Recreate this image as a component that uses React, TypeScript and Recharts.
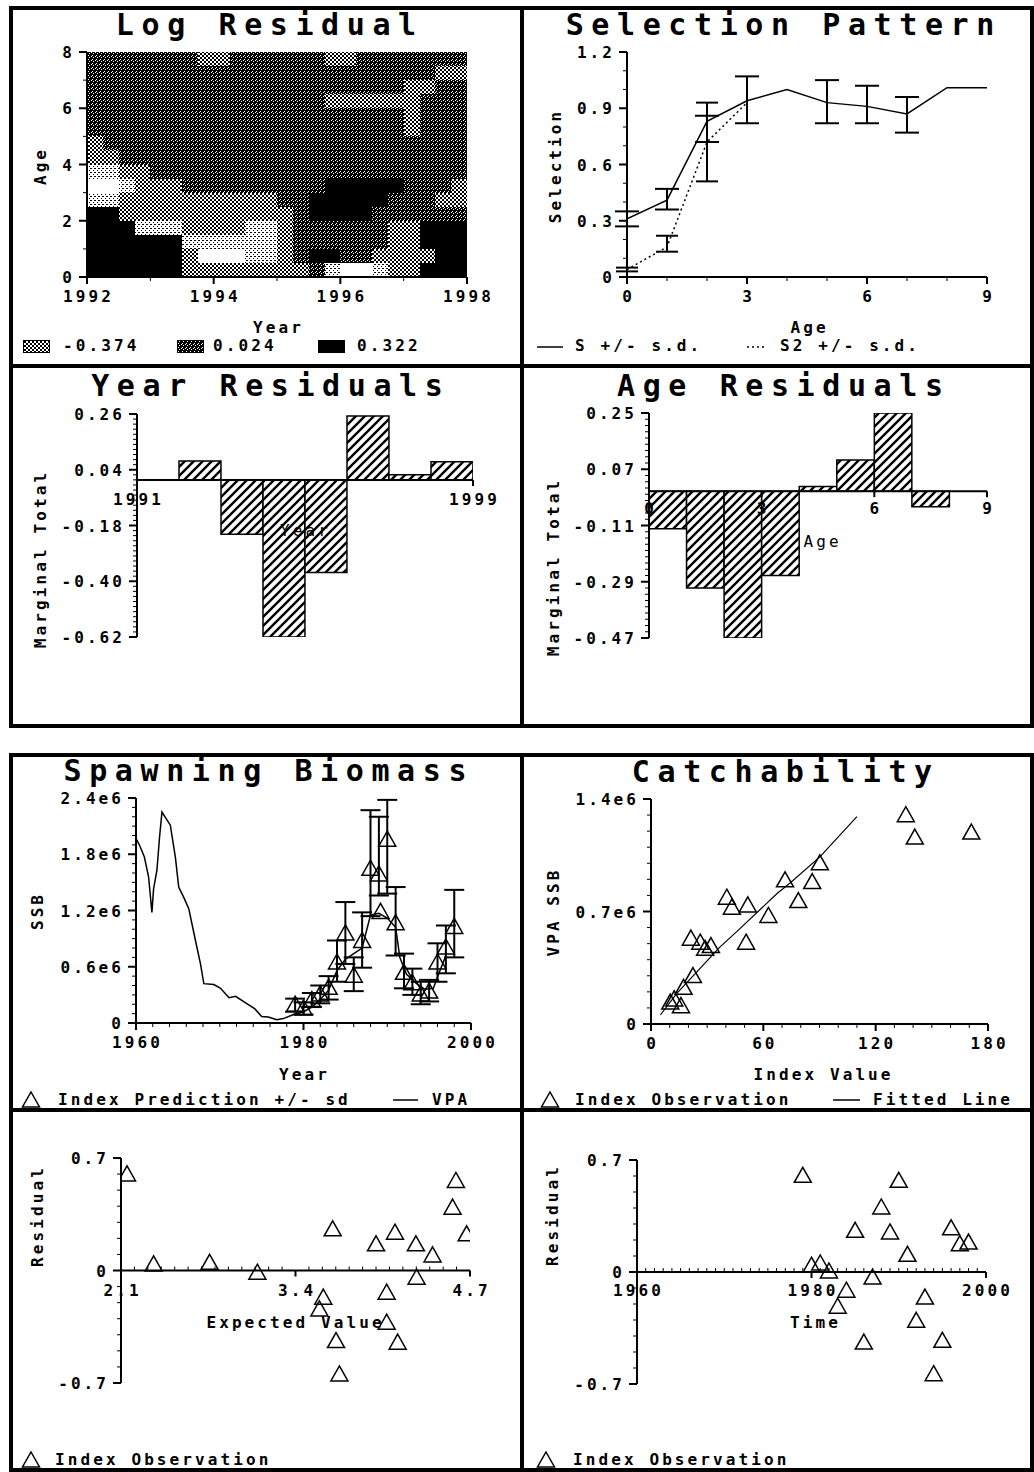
import React from "react";
import {
  ComposedChart,
  Line,
  Scatter,
  Bar,
  XAxis,
  YAxis,
  ReferenceArea,
  ReferenceLine,
  ReferenceDot,
  ErrorBar,
} from "recharts";

// ---------- Log Residual: contour level per quarter-year x half-age cell (0 lightest .. 4 darkest)
const lrYearEdges = [
  1992, 1992.25, 1992.5, 1992.75, 1993, 1993.25, 1993.5, 1993.75, 1994, 1994.25, 1994.5, 1994.75, 1995,
  1995.25, 1995.5, 1995.75, 1996, 1996.25, 1996.5, 1996.75, 1997, 1997.25, 1997.5, 1997.75, 1998,
];
const lrAgeEdges = [8, 7.5, 7, 6.5, 6, 5.5, 5, 4.5, 4, 3.5, 3, 2.5, 2, 1.5, 1, 0.5, 0];
const lrLevels = [
  [3, 3, 3, 3, 3, 3, 3, 2, 2, 3, 3, 3, 3, 3, 3, 2, 2, 3, 3, 3, 3, 3, 3, 3],
  [3, 3, 3, 3, 3, 3, 3, 3, 3, 3, 3, 3, 3, 3, 3, 3, 3, 3, 3, 3, 3, 3, 2, 2],
  [3, 3, 3, 3, 3, 3, 3, 3, 3, 3, 3, 3, 3, 3, 3, 3, 3, 3, 3, 3, 2, 2, 3, 3],
  [3, 3, 3, 3, 3, 3, 3, 3, 3, 3, 3, 3, 3, 3, 3, 2, 2, 2, 2, 2, 2, 3, 3, 3],
  [3, 3, 3, 3, 3, 3, 3, 3, 3, 3, 3, 3, 3, 3, 3, 3, 3, 3, 3, 3, 2, 3, 3, 3],
  [3, 3, 3, 3, 3, 3, 3, 3, 3, 3, 3, 3, 3, 3, 3, 3, 3, 3, 3, 3, 2, 3, 3, 3],
  [2, 3, 3, 3, 3, 3, 3, 3, 3, 3, 3, 3, 3, 3, 3, 3, 3, 3, 3, 3, 3, 3, 3, 3],
  [2, 2, 3, 3, 3, 3, 3, 3, 3, 3, 3, 3, 3, 3, 3, 3, 3, 3, 3, 3, 3, 3, 3, 3],
  [1, 1, 2, 2, 3, 3, 3, 3, 3, 3, 3, 3, 3, 3, 3, 3, 3, 3, 3, 3, 3, 3, 3, 3],
  [0, 0, 1, 2, 2, 2, 3, 3, 3, 3, 3, 3, 3, 3, 3, 4, 4, 4, 4, 4, 3, 3, 3, 2],
  [1, 1, 2, 2, 2, 2, 2, 2, 2, 2, 2, 2, 3, 3, 4, 4, 4, 4, 4, 3, 3, 3, 2, 2],
  [4, 4, 2, 2, 2, 2, 2, 2, 2, 2, 2, 2, 2, 3, 4, 4, 4, 4, 3, 3, 3, 3, 3, 3],
  [4, 4, 4, 1, 1, 1, 2, 2, 2, 2, 1, 1, 2, 3, 3, 3, 3, 3, 3, 2, 2, 4, 4, 4],
  [4, 4, 4, 4, 4, 4, 1, 1, 1, 1, 1, 1, 2, 3, 3, 3, 3, 3, 3, 2, 2, 4, 4, 4],
  [4, 4, 4, 4, 4, 4, 2, 0, 0, 0, 1, 1, 2, 3, 4, 4, 3, 3, 2, 2, 2, 2, 4, 4],
  [4, 4, 4, 4, 4, 4, 2, 2, 2, 2, 2, 2, 2, 2, 3, 1, 0, 0, 1, 2, 2, 4, 4, 4],
];
const lrLegend = ["-0.374", "0.024", "0.322"];
const lrXLabels = [1992, 1994, 1996, 1998];
const lrYLabels = [0, 2, 4, 6, 8];

// ---------- Selection Pattern
const selAge = [0, 1, 2, 3, 4, 5, 6, 7, 8, 9];
const selS = [0.31, 0.41, 0.83, 0.94, 1.0, 0.93, 0.91, 0.87, 1.01, 1.01];
const selSLow = [0.27, 0.36, 0.72, 0.82, null, 0.82, 0.82, 0.77, null, null];
const selSHigh = [0.35, 0.47, 0.86, 1.07, null, 1.05, 1.02, 0.96, null, null];
const selS2 = [0.04, 0.16, 0.72, 0.93, null, null, null, null, null, null];
const selS2Low = [0.03, 0.135, 0.51, null, null, null, null, null, null, null];
const selS2High = [0.05, 0.22, 0.93, null, null, null, null, null, null, null];
const selXLabels = [0, 3, 6, 9];
const selYTicks = [0, 0.3, 0.6, 0.9, 1.2];
const selYLabels = ["0", "0.3", "0.6", "0.9", "1.2"];

// ---------- Year Residuals (bar for year y spans y .. y+1)
const yrYears = [1991, 1992, 1993, 1994, 1995, 1996, 1997, 1998];
const yrVals = [null, 0.075, -0.215, -0.62, -0.365, 0.252, 0.02, 0.072];
const yrXLabels = [1991, 1999];
const yrYTicks = [0.26, 0.04, -0.18, -0.4, -0.62];
const yrYLabels = ["0.26", "0.04", "-0.18", "-0.40", "-0.62"];

// ---------- Age Residuals (bar for age a spans a .. a+1)
const arAges = [0, 1, 2, 3, 4, 5, 6, 7, 8];
const arVals = [-0.12, -0.31, -0.47, -0.27, 0.015, 0.1, 0.25, -0.05, null];
const arXLabels = [0, 3, 6, 9];
const arYTicks = [0.25, 0.07, -0.11, -0.29, -0.47];
const arYLabels = ["0.25", "0.07", "-0.11", "-0.29", "-0.47"];

// ---------- Spawning Biomass
const vpaYear = [
  1960, 1960.5, 1961, 1961.5, 1961.9, 1962.1, 1962.5, 1962.8, 1963.1, 1963.6, 1964.1, 1964.7, 1965.1, 1965.7,
  1966.3, 1967.1, 1967.7, 1968.1, 1969.3, 1970.1, 1971.1, 1971.9, 1973, 1974.2, 1975, 1975.8, 1976.8, 1977.6,
  1978.8, 1980, 1981, 1982, 1983, 1984, 1985, 1986, 1987, 1988, 1989, 1990, 1991, 1991.5, 1992.3, 1993.5,
  1994.5, 1995.5, 1996.3, 1997,
];
const vpaSSB = [
  1.97e6, 1.88e6, 1.77e6, 1.56e6, 1.18e6, 1.43e6, 1.63e6, 1.97e6, 2.25e6, 2.18e6, 2.11e6, 1.77e6, 1.45e6, 1.34e6,
  1.22e6, 0.88e6, 0.63e6, 0.42e6, 0.41e6, 0.37e6, 0.27e6, 0.285e6, 0.22e6, 0.15e6, 0.07e6, 0.064e6, 0.036e6, 0.047e6,
  0.09e6, 0.12e6, 0.17e6, 0.25e6, 0.35e6, 0.56e6, 0.68e6, 0.74e6, 0.8e6, 1.15e6, 1.17e6, 1.12e6, 1.02e6, 0.7e6,
  0.52e6, 0.42e6, 0.36e6, 0.37e6, 0.56e6, 0.72e6,
];
const idxYear = [1979, 1980, 1981, 1982, 1983, 1984, 1985, 1986, 1987, 1988, 1989, 1989.2, 1990, 1991, 1992, 1993, 1994, 1995, 1996, 1997, 1998];
const idxPred = [0.19e6, 0.15e6, 0.24e6, 0.3e6, 0.37e6, 0.64e6, 0.95e6, 0.5e6, 0.87e6, 1.64e6, 1.58e6, 1.18e6, 1.95e6, 1.06e6, 0.53e6, 0.42e6, 0.3e6, 0.33e6, 0.64e6, 0.8e6, 1.02e6];
const idxLow = [0.12e6, 0.09e6, 0.17e6, 0.21e6, 0.25e6, 0.44e6, 0.63e6, 0.34e6, 0.59e6, 1.14e6, 1.36e6, null, 1.38e6, 0.72e6, 0.37e6, 0.3e6, 0.2e6, 0.23e6, 0.44e6, 0.53e6, 0.7e6];
const idxHigh = [0.26e6, 0.22e6, 0.32e6, 0.4e6, 0.5e6, 0.88e6, 1.29e6, 0.7e6, 1.18e6, 2.27e6, 2.2e6, null, 2.38e6, 1.45e6, 0.74e6, 0.58e6, 0.44e6, 0.46e6, 0.85e6, 1.04e6, 1.42e6];
const ssbXLabels = [1960, 1980, 2000];
const ssbYTicks = [0, 0.6e6, 1.2e6, 1.8e6, 2.4e6];
const ssbYLabels = ["0", "0.6e6", "1.2e6", "1.8e6", "2.4e6"];

// ---------- Catchability
const obsIndex = [136.1, 140.9, 171.1, 90.2, 71.6, 86.1, 78.7, 40.5, 43.2, 51.7, 62.7, 50.8, 21.3, 26.3, 28.9, 32.0, 22.4, 17.4, 12.4, 16.0, 10.3];
const obsSSB = [1.296e6, 1.157e6, 1.188e6, 0.997e6, 0.891e6, 0.88e6, 0.762e6, 0.783e6, 0.721e6, 0.735e6, 0.669e6, 0.503e6, 0.528e6, 0.503e6, 0.465e6, 0.482e6, 0.295e6, 0.222e6, 0.15e6, 0.108e6, 0.13e6];
const fitIndex = [5, 13.8, 36.9, 45.8, 67.2, 74.3, 90.2, 110];
const fitSSB = [0.056e6, 0.19e6, 0.48e6, 0.575e6, 0.81e6, 0.877e6, 1.04e6, 1.29e6];
const catXLabels = [0, 60, 120, 180];
const catYTicks = [0, 0.7e6, 1.4e6];
const catYLabels = ["0", "0.7e6", "1.4e6"];

// ---------- Residuals
const evExpected = [2.145, 2.343, 2.76, 3.116, 3.677, 3.607, 3.578, 3.702, 3.727, 4.0, 4.141, 4.079, 4.079, 4.161, 4.297, 4.302, 4.421, 4.595, 4.57, 4.675];
const evResidual = [0.595, 0.035, 0.045, -0.017, 0.253, -0.172, -0.245, -0.442, -0.65, 0.16, 0.232, -0.141, -0.328, -0.452, 0.16, -0.048, 0.091, 0.554, 0.388, 0.222];
const evXLabels = [2.1, 3.4, 4.7];
const tmYear = [1979, 1980, 1981, 1982, 1983, 1984, 1985, 1986, 1987, 1988, 1989, 1990, 1991, 1992, 1993, 1994, 1995, 1996, 1997, 1998];
const tmResidual = [0.598, 0.036, 0.05, 0.0, -0.22, -0.12, 0.254, -0.444, -0.038, 0.4, 0.244, 0.567, 0.104, -0.308, -0.163, -0.642, -0.433, 0.27, 0.171, 0.181];
const tmXLabels = [1960, 1980, 2000];
const resYTicks = [-0.7, 0, 0.7];
const resYLabels = ["-0.7", "0", "0.7"];

// ---------- helpers
const MONO = '"DejaVu Sans Mono", "Liberation Mono", monospace';
const FS = 16;
const LS = 3.1;
const TXT: React.CSSProperties = { fontFamily: MONO, fontSize: FS, fontWeight: 700, letterSpacing: LS, fill: "#000" };
const levelFill = ["#fff", "url(#ltdot)", "url(#xhatch)", "url(#dkdot)", "#000"];

const steps = (a: number, b: number, s: number) =>
  Array.from({ length: Math.round((b - a) / s) + 1 }, (_, i) => +(a + i * s).toFixed(6));
const near = (a: number, b: number) => Math.abs(a - b) < 1e-7 * Math.max(1, Math.abs(a), Math.abs(b));
const errOf = (v: number | null, lo: number | null, hi: number | null) =>
  v == null || lo == null || hi == null ? undefined : [v - lo, hi - v];

function leftTick(majors: number[], labels: string[]) {
  return (p: any) => {
    const i = majors.findIndex((m) => near(m, Number(p.payload.value)));
    return (
      <g>
        <line x1={p.x - (i >= 0 ? 8 : 4)} x2={p.x} y1={p.y} y2={p.y} stroke="#000" strokeWidth={i >= 0 ? 2 : 1} />
        {i >= 0 && (
          <text x={p.x - 15 + LS} y={p.y + 6} textAnchor="end" style={TXT}>
            {labels[i]}
          </text>
        )}
      </g>
    );
  };
}

function bottomTick(majors: number[], labels: string[]) {
  return (p: any) => {
    const i = majors.findIndex((m) => near(m, Number(p.payload.value)));
    return (
      <g>
        <line x1={p.x} x2={p.x} y1={p.y} y2={p.y + (i >= 0 ? 7 : 4)} stroke="#000" strokeWidth={i >= 0 ? 2 : 1} />
        {i >= 0 && (
          <text x={p.x + LS / 2} y={p.y + 25} textAnchor="middle" style={TXT}>
            {labels[i]}
          </text>
        )}
      </g>
    );
  };
}

// tick mark (and label) on an x axis that runs along y = 0
function zeroTick(label: string | null, gap: number) {
  return (p: any) => (
    <g>
      <line x1={p.cx} x2={p.cx} y1={p.cy} y2={label ? p.cy + 6 : p.cy - 4} stroke="#000" strokeWidth={label ? 2 : 1} />
      {label && (
        <text x={p.cx + LS / 2} y={p.cy + gap} textAnchor="middle" style={TXT}>
          {label}
        </text>
      )}
    </g>
  );
}

const Tri = (p: any) =>
  p.cx == null ? (
    <g />
  ) : (
    <path
      d={`M${p.cx},${p.cy - 9}L${p.cx + 8.5},${p.cy + 6}L${p.cx - 8.5},${p.cy + 6}Z`}
      fill="none"
      stroke="#000"
      strokeWidth={1.5}
    />
  );

const axisBase = {
  tickSize: 0,
  tickMargin: 0,
  tickLine: false,
  axisLine: { stroke: "#000", strokeWidth: 2 },
  interval: 0 as const,
  allowDataOverflow: true,
};

const PL = 100, PT = 12, PR = 40, PB = 40;
function frame(r: number[], xHidden = false) {
  return {
    style: { position: "absolute" as const, left: r[0] - PL, top: r[1] - PT },
    width: r[2] - r[0] + PL + PR,
    height: r[3] - r[1] + PT + PB,
    margin: { top: PT, right: PR, left: 0, bottom: xHidden ? PB : 0 },
  };
}

function Caption({ x, y, text, size = FS, weight = 700, ls = LS, start = false, rot = false }: any) {
  const tf = start ? "translate(0,-50%)" : rot ? "translate(-50%,-50%) rotate(-90deg)" : "translate(-50%,-50%)";
  return (
    <div
      style={{
        position: "absolute",
        left: x,
        top: y,
        transform: tf,
        marginLeft: start || rot ? 0 : ls / 2,
        fontFamily: MONO,
        fontSize: size,
        fontWeight: weight,
        letterSpacing: ls,
        lineHeight: 1,
        whiteSpace: "nowrap",
        color: "#000",
      }}
    >
      {text}
    </div>
  );
}

function TriMark({ x, y }: { x: number; y: number }) {
  return (
    <svg style={{ position: "absolute", left: x - 10, top: y - 10 }} width={20} height={20}>
      <path d="M10,2L18.5,17L1.5,17Z" fill="none" stroke="#000" strokeWidth={1.5} />
    </svg>
  );
}

function Seg({ x1, x2, y, dash }: { x1: number; x2: number; y: number; dash?: string }) {
  return (
    <svg style={{ position: "absolute", left: x1, top: y - 2 }} width={x2 - x1} height={4}>
      <line x1={0} x2={x2 - x1} y1={2} y2={2} stroke="#000" strokeWidth={1.5} strokeDasharray={dash} />
    </svg>
  );
}

function Swatch({ x, y, fill }: { x: number; y: number; fill: string }) {
  return (
    <svg style={{ position: "absolute", left: x, top: y }} width={27} height={13}>
      <rect x={0.5} y={0.5} width={26} height={12} fill={fill} stroke="#000" strokeWidth={1} />
    </svg>
  );
}

function Patterns() {
  return (
    <svg width={0} height={0} style={{ position: "absolute" }}>
      <defs>
        <pattern id="dkdot" width={4} height={4} patternUnits="userSpaceOnUse">
          <rect width={4} height={4} fill="#000" />
          <rect x={0} y={0} width={1} height={1} fill="#fff" />
          <rect x={2} y={1} width={1} height={1} fill="#fff" />
          <rect x={1} y={3} width={1} height={1} fill="#fff" />
        </pattern>
        <pattern id="xhatch" width={4} height={4} patternUnits="userSpaceOnUse">
          <rect width={4} height={4} fill="#fff" />
          <path d="M0,0L4,4M4,0L0,4" stroke="#000" strokeWidth={1} />
        </pattern>
        <pattern id="ltdot" width={4} height={4} patternUnits="userSpaceOnUse">
          <rect width={4} height={4} fill="#fff" />
          <rect x={0} y={0} width={1} height={1} fill="#000" />
          <rect x={2} y={2} width={1} height={1} fill="#000" />
          <rect x={3} y={0} width={1} height={1} fill="#000" />
        </pattern>
        <pattern id="hatch" width={9} height={9} patternUnits="userSpaceOnUse">
          <rect width={9} height={9} fill="#fff" />
          <path d="M-1,1L1,-1M0,9L9,0M8,10L10,8" stroke="#000" strokeWidth={2.4} />
        </pattern>
      </defs>
    </svg>
  );
}

const panelRects = [
  [9, 6, 515, 362],
  [520, 6, 514, 362],
  [9, 364, 515, 364],
  [520, 364, 514, 364],
  [9, 753, 515, 359],
  [520, 753, 514, 359],
  [9, 1108, 515, 364],
  [520, 1108, 514, 364],
];

export default function App() {
  const p3 = [137, 414, 473, 637];
  const p4 = [649, 413, 987, 638];
  const f1 = frame([87, 52, 467, 277]);
  const f2 = frame([627, 52, 987, 277]);
  const f3 = frame(p3, true);
  const f4 = frame(p4, true);
  const f5 = frame([136, 798, 471, 1023]);
  const f6 = frame([651, 799, 988, 1024]);
  const f7 = frame([121, 1158, 470, 1383], true);
  const f8 = frame([637, 1160, 986, 1384], true);

  const selData = selAge.map((a, i) => ({
    x: a,
    s: selS[i],
    s2: selS2[i],
    sErr: errOf(selS[i], selSLow[i], selSHigh[i]),
    s2Err: errOf(selS2[i], selS2Low[i], selS2High[i]),
  }));
  // bars are centred in their one-unit slot
  const yrData = yrYears.map((y, i) => ({ x: y + 0.5, v: yrVals[i] }));
  const arData = arAges.map((a, i) => ({ x: a + 0.5, v: arVals[i] }));
  const vpaData = vpaYear.map((y, i) => ({ x: y, y: vpaSSB[i] }));
  const idxData = idxYear.map((y, i) => ({ x: y, y: idxPred[i], err: errOf(idxPred[i], idxLow[i], idxHigh[i]) }));
  const obsData = obsIndex.map((x, i) => ({ x, y: obsSSB[i] }));
  const fitData = fitIndex.map((x, i) => ({ x, y: fitSSB[i] }));
  const evData = evExpected.map((x, i) => ({ x, y: evResidual[i] }));
  const tmData = tmYear.map((x, i) => ({ x, y: tmResidual[i] }));

  // one slot wide, a hair under the band so Recharts does not shrink it
  const yrBarSize = (p3[2] - p3[0]) / (yrXLabels[1] - yrXLabels[0]) - 0.05;
  const arBarSize = (p4[2] - p4[0]) / (arXLabels[arXLabels.length - 1] - arXLabels[0]) - 0.05;

  return (
    <div style={{ position: "absolute", left: 0, top: 0, width: 1034, height: 1472, background: "#fff", overflow: "hidden" }}>
      <Patterns />

      {/* Log Residual */}
      <div style={f1.style}>
        <ComposedChart width={f1.width} height={f1.height} margin={f1.margin}>
          {lrLevels.flatMap((row, r) =>
            row.map((lv, c) => (
              <ReferenceArea
                key={`${r}-${c}`}
                x1={lrYearEdges[c]}
                x2={lrYearEdges[c + 1]}
                y1={lrAgeEdges[r + 1]}
                y2={lrAgeEdges[r]}
                fill={levelFill[lv]}
                fillOpacity={1}
                stroke="none"
                shapeRendering="crispEdges"
              />
            ))
          )}
          <XAxis type="number" dataKey="x" domain={[1992, 1998]} ticks={steps(1992, 1998, 1)} height={PB}
            tick={bottomTick(lrXLabels, lrXLabels.map(String))} {...axisBase} />
          <YAxis type="number" domain={[0, 8]} ticks={steps(0, 8, 1)} width={PL}
            tick={leftTick(lrYLabels, lrYLabels.map(String))} {...axisBase} />
        </ComposedChart>
      </div>

      {/* Selection Pattern */}
      <div style={f2.style}>
        <ComposedChart width={f2.width} height={f2.height} margin={f2.margin} data={selData}>
          <XAxis type="number" dataKey="x" domain={[0, 9]} ticks={steps(0, 9, 1)} height={PB}
            tick={bottomTick(selXLabels, selXLabels.map(String))} {...axisBase} />
          <YAxis type="number" domain={[0, 1.2]} ticks={steps(0, 1.2, 0.1)} width={PL}
            tick={leftTick(selYTicks, selYLabels)} {...axisBase} />
          <Line type="linear" dataKey="s" stroke="#000" strokeWidth={1.5} dot={false} isAnimationActive={false}>
            <ErrorBar dataKey="sErr" direction="y" width={12} stroke="#000" strokeWidth={2} />
          </Line>
          <Line type="linear" dataKey="s2" stroke="#000" strokeWidth={1.5} strokeDasharray="2 3" dot={false} isAnimationActive={false}>
            <ErrorBar dataKey="s2Err" direction="y" width={11} stroke="#000" strokeWidth={2} />
          </Line>
        </ComposedChart>
      </div>

      {/* Year Residuals */}
      <div style={f3.style}>
        <ComposedChart width={f3.width} height={f3.height} margin={f3.margin} data={yrData} barGap={0} barCategoryGap={0}>
          <XAxis type="number" dataKey="x" domain={[1991, 1999]} ticks={steps(1991, 1999, 1)} hide allowDataOverflow />
          <YAxis type="number" domain={[-0.62, 0.26]} ticks={steps(-0.62, 0.26, 0.02)} width={PL}
            tick={leftTick(yrYTicks, yrYLabels)} {...axisBase} />
          <Bar dataKey="v" barSize={yrBarSize} fill="url(#hatch)" stroke="#000" strokeWidth={1.5} isAnimationActive={false} />
          <ReferenceLine y={0} stroke="#000" strokeWidth={2} />
          {yrXLabels.map((t) => (
            <ReferenceDot key={t} x={t} y={0} r={0} zIndex={1200} shape={zeroTick(String(t), 25)} />
          ))}
        </ComposedChart>
      </div>

      {/* Age Residuals */}
      <div style={f4.style}>
        <ComposedChart width={f4.width} height={f4.height} margin={f4.margin} data={arData} barGap={0} barCategoryGap={0}>
          <XAxis type="number" dataKey="x" domain={[0, 9]} ticks={steps(0, 9, 1)} hide allowDataOverflow />
          <YAxis type="number" domain={[-0.47, 0.25]} ticks={steps(-0.47, 0.25, 0.02)} width={PL}
            tick={leftTick(arYTicks, arYLabels)} {...axisBase} />
          <Bar dataKey="v" barSize={arBarSize} fill="url(#hatch)" stroke="#000" strokeWidth={1.5} isAnimationActive={false} />
          <ReferenceLine y={0} stroke="#000" strokeWidth={2} />
          {arXLabels.map((t) => (
            <ReferenceDot key={t} x={t} y={0} r={0} zIndex={1200} shape={zeroTick(String(t), 23)} />
          ))}
        </ComposedChart>
      </div>

      {/* Spawning Biomass */}
      <div style={f5.style}>
        <ComposedChart width={f5.width} height={f5.height} margin={f5.margin}>
          <XAxis type="number" dataKey="x" domain={[1960, 2000]} ticks={steps(1960, 2000, 2)} height={PB}
            tick={bottomTick(ssbXLabels, ssbXLabels.map(String))} {...axisBase} />
          <YAxis type="number" domain={[0, 2.4e6]} ticks={steps(0, 2.4e6, 1e5)} width={PL}
            tick={leftTick(ssbYTicks, ssbYLabels)} {...axisBase} />
          <Line data={vpaData} type="linear" dataKey="y" stroke="#000" strokeWidth={1.5} dot={false} isAnimationActive={false} />
          <Scatter data={idxData} dataKey="y" shape={Tri} isAnimationActive={false}>
            <ErrorBar dataKey="err" direction="y" width={10} stroke="#000" strokeWidth={2} />
          </Scatter>
        </ComposedChart>
      </div>

      {/* Catchability */}
      <div style={f6.style}>
        <ComposedChart width={f6.width} height={f6.height} margin={f6.margin}>
          <XAxis type="number" dataKey="x" domain={[0, 180]} ticks={steps(0, 180, 10)} height={PB}
            tick={bottomTick(catXLabels, catXLabels.map(String))} {...axisBase} />
          <YAxis type="number" domain={[0, 1.4e6]} ticks={steps(0, 1.4e6, 1e5)} width={PL}
            tick={leftTick(catYTicks, catYLabels)} {...axisBase} />
          <Line data={fitData} type="linear" dataKey="y" stroke="#000" strokeWidth={1.2} dot={false} isAnimationActive={false} />
          <Scatter data={obsData} dataKey="y" shape={Tri} isAnimationActive={false} />
        </ComposedChart>
      </div>

      {/* Residual vs expected value */}
      <div style={f7.style}>
        <ComposedChart width={f7.width} height={f7.height} margin={f7.margin}>
          <XAxis type="number" dataKey="x" domain={[2.1, 4.7]} hide allowDataOverflow />
          <YAxis type="number" domain={[-0.7, 0.7]} ticks={steps(-0.7, 0.7, 0.1)} width={PL}
            tick={leftTick(resYTicks, resYLabels)} {...axisBase} />
          <ReferenceLine y={0} stroke="#000" strokeWidth={2} />
          {steps(2.1, 4.7, 0.1).map((t) => {
            const i = evXLabels.findIndex((m) => near(m, t));
            return <ReferenceDot key={t} x={t} y={0} r={0} shape={zeroTick(i >= 0 ? String(evXLabels[i]) : null, 25)} />;
          })}
          <Scatter data={evData} dataKey="y" shape={Tri} isAnimationActive={false} />
        </ComposedChart>
      </div>

      {/* Residual vs time */}
      <div style={f8.style}>
        <ComposedChart width={f8.width} height={f8.height} margin={f8.margin}>
          <XAxis type="number" dataKey="x" domain={[1960, 2000]} hide allowDataOverflow />
          <YAxis type="number" domain={[-0.7, 0.7]} ticks={steps(-0.7, 0.7, 0.1)} width={PL}
            tick={leftTick(resYTicks, resYLabels)} {...axisBase} />
          <ReferenceLine y={0} stroke="#000" strokeWidth={2} />
          {steps(1960, 2000, 1).map((t) => {
            const i = tmXLabels.findIndex((m) => near(m, t));
            return <ReferenceDot key={t} x={t} y={0} r={0} shape={zeroTick(i >= 0 ? String(tmXLabels[i]) : null, 24)} />;
          })}
          <Scatter data={tmData} dataKey="y" shape={Tri} isAnimationActive={false} />
        </ComposedChart>
      </div>

      {/* panel frames */}
      {panelRects.map((r, i) => (
        <div key={i} style={{ position: "absolute", left: r[0], top: r[1], width: r[2], height: r[3], border: "4px solid #000", boxSizing: "border-box" }} />
      ))}

      {/* titles */}
      <Caption x={266} y={25} text="Log Residual" size={30} ls={7.6} />
      <Caption x={780} y={25} text="Selection Pattern" size={30} ls={7.6} />
      <Caption x={267} y={386} text="Year Residuals" size={30} ls={7.6} />
      <Caption x={780} y={386} text="Age Residuals" size={30} ls={7.6} />
      <Caption x={265} y={771} text="Spawning Biomass" size={30} ls={7.6} />
      <Caption x={782} y={772} text="Catchability" size={30} ls={7.6} />

      {/* axis names */}
      <Caption x={277} y={328} text="Year" />
      <Caption x={41} y={166} text="Age" rot />
      <Caption x={808} y={328} text="Age" />
      <Caption x={556} y={166} text="Selection" rot />
      <Caption x={41} y={559} text="Marginal Total" rot />
      <Caption x={304} y={531} text="Year" weight={400} />
      <Caption x={554} y={567} text="Marginal Total" rot />
      <Caption x={821} y={542} text="Age" weight={400} />
      <Caption x={38} y={911} text="SSB" rot />
      <Caption x={303} y={1075} text="Year" />
      <Caption x={554} y={912} text="VPA SSB" rot />
      <Caption x={822} y={1075} text="Index Value" />
      <Caption x={38} y={1216} text="Residual" rot />
      <Caption x={294} y={1323} text="Expected Value" />
      <Caption x={553} y={1215} text="Residual" rot />
      <Caption x={814} y={1323} text="Time" />

      {/* legends */}
      <Swatch x={23} y={340} fill="url(#xhatch)" />
      <Caption x={63} y={346} text={lrLegend[0]} start />
      <Swatch x={177} y={340} fill="url(#dkdot)" />
      <Caption x={213} y={346} text={lrLegend[1]} start />
      <Swatch x={318} y={340} fill="#000" />
      <Caption x={357} y={346} text={lrLegend[2]} start />

      <Seg x1={537} x2={563} y={347} />
      <Caption x={575} y={346} text="S +/- s.d." start />
      <Seg x1={747} x2={767} y={347} dash="2 3" />
      <Caption x={780} y={346} text="S2 +/- s.d." start />

      <TriMark x={31} y={1100} />
      <Caption x={58} y={1100} text="Index Prediction +/- sd" start />
      <Seg x1={393} x2={418} y={1100} />
      <Caption x={432} y={1100} text="VPA" start />

      <TriMark x={550} y={1100} />
      <Caption x={575} y={1100} text="Index Observation" start />
      <Seg x1={833} x2={860} y={1100} />
      <Caption x={873} y={1100} text="Fitted Line" start />

      <TriMark x={31} y={1460} />
      <Caption x={55} y={1460} text="Index Observation" start />
      <TriMark x={546} y={1460} />
      <Caption x={573} y={1460} text="Index Observation" start />
    </div>
  );
}
